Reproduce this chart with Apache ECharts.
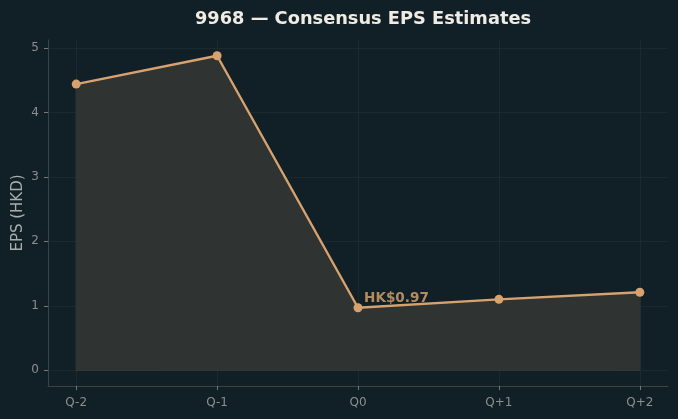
<!DOCTYPE html>
<html><head><meta charset="utf-8">
<script src="https://cdn.jsdelivr.net/npm/echarts@6/dist/echarts.min.js"></script>
<style>html,body{margin:0;padding:0;background:#112027;}#c{width:678px;height:419px;}</style>
</head><body><div id="c"></div>
<script>
const categories = ['Q-2', 'Q-1', 'Q0', 'Q+1', 'Q+2'];
const epsValues = [4.44, 4.88, 0.97, 1.10, 1.21];
const yTicks = [0, 1, 2, 3, 4, 5];
const annotationIndex = 2;
const annotationText = 'HK$0.97';

const xTicks = categories.map((c, i) => i);
const lineData = epsValues.map((v, i) => [i, v]);
const last = categories.length - 1;
const edgeData = [[0, epsValues[0]], [0, 0], [last, 0], [last, epsValues[last]]];

const gridColor = '#1a2a2e';
const chart = echarts.init(document.getElementById('c'));
chart.setOption({
  backgroundColor: '#112027',
  animation: false,
  title: {
    text: '9968 — Consensus EPS Estimates',
    left: 358, top: 5, textAlign: 'center',
    textStyle: {color: '#f0ece4', fontSize: 17.8, fontWeight: 'bold', fontFamily: 'DejaVu Sans'}
  },
  grid: {left: 48, right: 10, top: 40, bottom: 33, containLabel: false, outerBoundsMode: 'none'},
  xAxis: {
    type: 'value', min: -0.2, max: 4.2,
    axisLine: {show: true, onZero: false, lineStyle: {color: '#3b4444'}},
    axisTick: {show: true, length: 4, lineStyle: {color: '#777'}, customValues: xTicks},
    splitLine: {show: false},
    axisLabel: {
      color: '#8a8f8f', fontSize: 12, fontFamily: 'DejaVu Sans', margin: 11,
      customValues: xTicks,
      formatter: v => categories[Math.round(v)]
    }
  },
  yAxis: {
    type: 'value', min: -0.244, max: 5.124,
    name: 'EPS (HKD)', nameLocation: 'middle', nameGap: 22, nameMoveOverlap: false,
    nameTextStyle: {color: '#a8adad', fontSize: 15, fontFamily: 'DejaVu Sans'},
    axisLine: {show: true, onZero: false, lineStyle: {color: '#3b4444'}},
    axisTick: {show: true, length: 4, lineStyle: {color: '#777'}, customValues: yTicks},
    splitLine: {show: false},
    axisLabel: {color: '#8a8f8f', fontSize: 12, fontFamily: 'DejaVu Sans', margin: 9,
      customValues: yTicks, formatter: v => String(Math.round(v))}
  },
  series: [
    {
      type: 'line', data: [], silent: true, showSymbol: false, z: 0,
      markLine: {
        silent: true, symbol: 'none', label: {show: false}, z: 0,
        lineStyle: {color: gridColor, width: 1, type: 'solid'},
        data: yTicks.map(t => ({yAxis: t})).concat(xTicks.map(t => ({xAxis: t})))
      }
    },
    {
      type: 'line', data: lineData, symbol: 'circle', symbolSize: 9,
      itemStyle: {color: '#d8a26f'},
      lineStyle: {color: '#d8a26f', width: 2.4},
      areaStyle: {color: '#2f3331', opacity: 1, origin: 0},
      z: 3
    },
    {
      type: 'line', data: edgeData, showSymbol: false, silent: true,
      lineStyle: {color: '#3a3f3a', width: 1}, z: 2
    },
    {
      type: 'scatter', data: [[annotationIndex, epsValues[annotationIndex]]],
      symbolSize: 0, silent: true, z: 4,
      label: {
        show: true, position: 'right', distance: 6, offset: [0, -9],
        formatter: annotationText, color: '#dca670', fontSize: 13.6, fontWeight: 'bold',
        fontFamily: 'DejaVu Sans'
      }
    }
  ]
});
</script></body></html>
